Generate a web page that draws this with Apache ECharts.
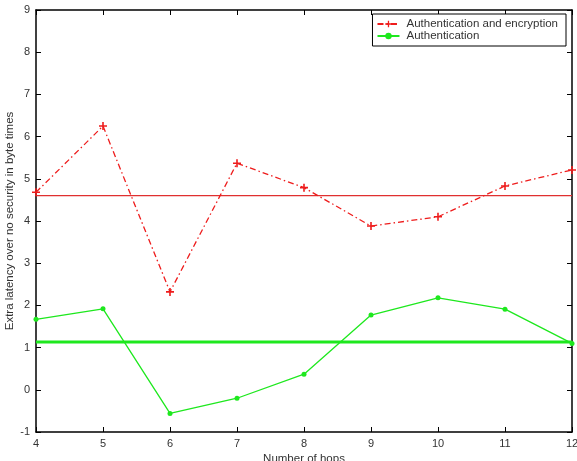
<!DOCTYPE html>
<html><head><meta charset="utf-8">
<script src="https://cdn.jsdelivr.net/npm/echarts@6/dist/echarts.min.js"></script>
<style>html,body{margin:0;padding:0;background:#fff}#c{width:577px;height:461px}</style>
</head><body><div id="c"></div>
<script>
const hops = [4, 5, 6, 7, 8, 9, 10, 11, 12];
const authEnc = [4.68, 6.25, 2.32, 5.37, 4.79, 3.88, 4.10, 4.83, 5.21];
const authOnly = [1.67, 1.92, -0.56, -0.20, 0.37, 1.77, 2.18, 1.91, 1.10];
const authEncMean = 4.6;
const authOnlyMean = 1.13;
const xTicks = [4, 12, 1];   // min, max, step
const yTicks = [-1, 9, 1];
const names = ['Authentication and encryption', 'Authentication'];

const RED = '#ee1c1c', GREEN = '#1ee81e';
const font = 'Liberation Sans, Arial, sans-serif';
const pair = (xs, ys) => xs.map((x, i) => [x, ys[i]]);
const flat = (v) => [[hops[0], v], [hops[hops.length - 1], v]];

const axisCommon = {
  type: 'value', splitLine: {show: false},
  axisLine: {show: true, onZero: false, lineStyle: {color: '#000', width: 1.5}},
  axisTick: {show: true, inside: true, length: 5, lineStyle: {color: '#000'}},
};

const chart = echarts.init(document.getElementById('c'), null, {renderer: 'canvas'});
chart.setOption({
  animation: false,
  backgroundColor: '#fff',
  grid: {left: 36, right: 5, top: 10, bottom: 29, containLabel: false, outerBoundsMode: 'none'},
  xAxis: [
    Object.assign({}, axisCommon, {min: xTicks[0], max: xTicks[1], interval: xTicks[2], position: 'bottom',
      axisLabel: {color: '#333', fontSize: 11, fontFamily: font, margin: 6},
      name: 'Number of hops', nameLocation: 'middle', nameGap: 21, nameMoveOverlap: false,
      nameTextStyle: {color: '#333', fontSize: 11.5, fontFamily: font}}),
    Object.assign({}, axisCommon, {min: xTicks[0], max: xTicks[1], interval: xTicks[2], position: 'top',
      axisLabel: {show: false}})
  ],
  yAxis: [
    Object.assign({}, axisCommon, {min: yTicks[0], max: yTicks[1], interval: yTicks[2], position: 'left',
      axisLabel: {color: '#333', fontSize: 11, fontFamily: font, margin: 6},
      name: 'Extra latency over no security in byte times', nameLocation: 'middle', nameGap: 20, nameMoveOverlap: false,
      nameTextStyle: {color: '#333', fontSize: 11.5, fontFamily: font}}),
    Object.assign({}, axisCommon, {min: yTicks[0], max: yTicks[1], interval: yTicks[2], position: 'right',
      axisLabel: {show: false}})
  ],
  legend: {
    data: names, orient: 'vertical', right: 11, top: 14,
    backgroundColor: '#fff', borderColor: '#000', borderWidth: 1, borderRadius: 0,
    padding: [4, 8, 4, 4], itemGap: 0, itemWidth: 22, itemHeight: 8,
    textStyle: {color: '#333', fontSize: 11.5, lineHeight: 10, fontFamily: font, padding: [0, 0, 0, 2]}
  },
  series: [
    {
      name: names[0], type: 'line', data: pair(hops, authEnc),
      symbol: 'path://M4,0H6V4H10V6H6V10H4V6H0V4H4Z', symbolSize: 8,
      itemStyle: {color: RED},
      lineStyle: {color: RED, width: 1.3, type: [6, 3, 1.5, 3]}, z: 3
    },
    {
      name: names[1], type: 'line', data: pair(hops, authOnly),
      symbol: 'circle', symbolSize: 5,
      itemStyle: {color: GREEN},
      lineStyle: {color: GREEN, width: 1.3}, z: 3
    },
    {
      name: 'encMean', type: 'line', data: flat(authEncMean), symbol: 'none',
      lineStyle: {color: '#e03030', width: 1.3}, z: 2
    },
    {
      name: 'authMean', type: 'line', data: flat(authOnlyMean), symbol: 'none',
      lineStyle: {color: GREEN, width: 3}, z: 2
    }
  ]
});
</script></body></html>
